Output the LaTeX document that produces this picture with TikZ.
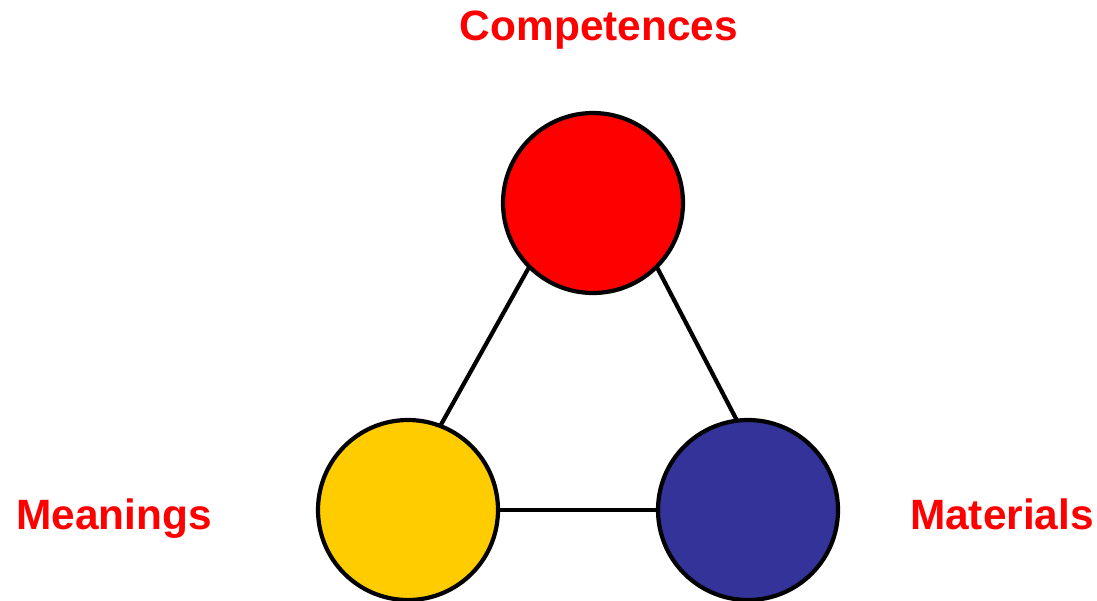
\documentclass[tikz,border=0pt]{standalone}
\usepackage{fontspec}
\setmainfont{Liberation Sans}
\definecolor{cred}{HTML}{FF0000}
\definecolor{cyellow}{HTML}{FFCC00}
\definecolor{cblue}{HTML}{333399}
\begin{document}
\begin{tikzpicture}[x=1pt,y=-1pt,
  ball/.style={circle,draw=black,line width=4.2pt,minimum size=180pt,inner sep=0pt,outer sep=0pt},
  lbl/.style={text=cred,font=\fontsize{42.4}{50}\selectfont\bfseries,anchor=base,inner sep=0pt},
  link/.style={draw=black,line width=4.2pt}]
\useasboundingbox (0,0) rectangle (1097,600);
\node[ball,fill=cred] (c) at (593,203) {};
\node[ball,fill=cyellow] (y) at (408,510) {};
\node[ball,fill=cblue] (b) at (748,510) {};
\draw[link] (c.225) -- (y.69);
\draw[link] (c.315) -- (b.97);
\draw[link] (y.0) -- (b.180);
\node[lbl] (tc) at (599,40) {Competences};
\node[lbl] (tm) at (114,529) {Meanings};
\node[lbl] (tt) at (1002,529) {Materials};
\end{tikzpicture}
\end{document}
